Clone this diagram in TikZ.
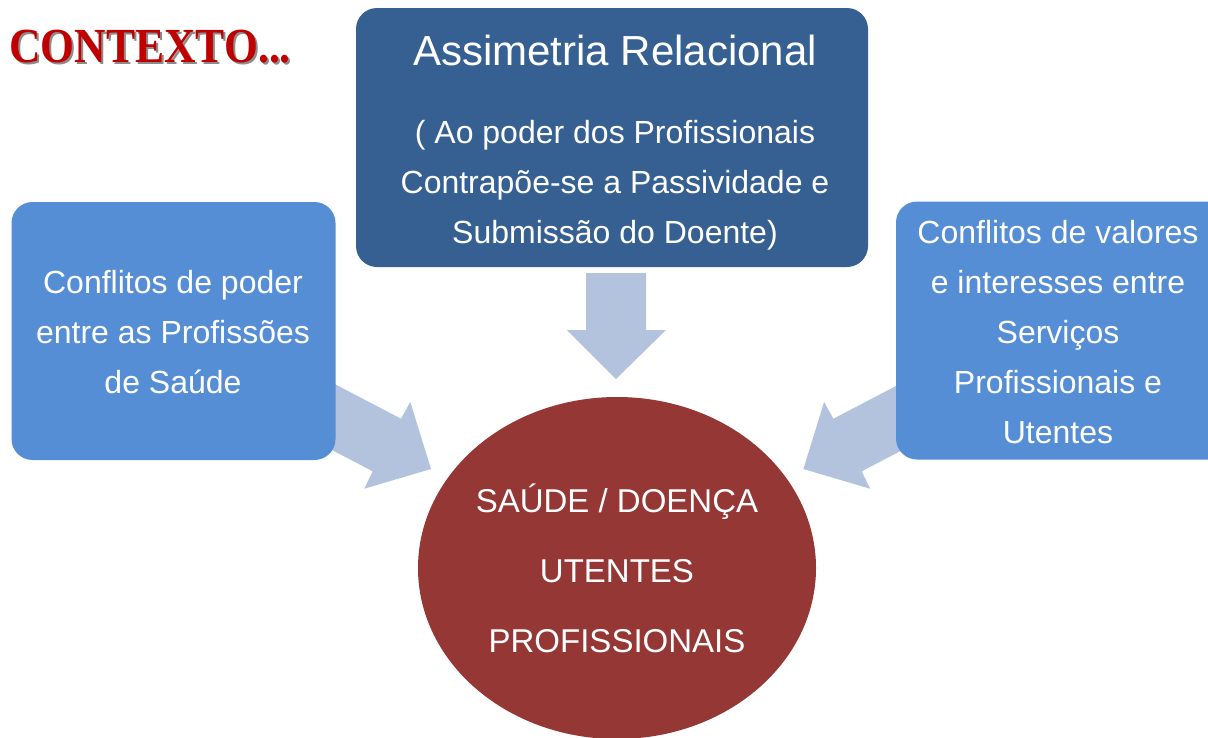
\documentclass[tikz,border=0pt]{standalone}
\usepackage{fontspec}
\setmainfont{Liberation Sans}
\newfontfamily\titlefont{Liberation Serif}
\definecolor{topblue}{HTML}{376092}
\definecolor{sideblue}{HTML}{558ED5}
\definecolor{arrowblue}{HTML}{B3C3DE}
\definecolor{circred}{HTML}{953735}
\definecolor{titlered}{HTML}{C00000}
\definecolor{shadowgray}{HTML}{8C8C8C}
\tikzset{
  boxshape/.style={rectangle, rounded corners=21pt, inner sep=0pt},
  topbox/.style={boxshape, fill=topblue},
  sidebox/.style={boxshape, fill=sideblue},
  blockarrow/.style={fill=arrowblue, draw=none},
  bodytext/.style={text=white, align=center, inner sep=0pt, font=\fontsize{32}{50}\selectfont},
  headtext/.style={text=white, inner sep=0pt, font=\fontsize{42}{50}\selectfont},
  circtext/.style={text=white, align=center, inner sep=0pt, font=\fontsize{33}{70}\selectfont},
  titletext/.style={inner sep=0pt, anchor=base east, xscale=0.89, font=\titlefont\bfseries\fontsize{49}{50}\selectfont}
}
\begin{document}
\begin{tikzpicture}[x=1pt,y=-1pt]
\useasboundingbox (0,0) rectangle (1208,737);
\clip (0,0) rectangle (1208,737);
\fill[white] (0,0) rectangle (1208,737);

% title
\node[titletext, text=shadowgray] (titleshadow) at (293,64) {CONTEXTO...};
\node[titletext, text=titlered] (title) at (291,62) {CONTEXTO...};

% block arrows (drawn first, boxes cover their tails)
\fill[blockarrow] (586,273) -- (646,273) -- (646,330) -- (666,330) -- (616,379)
   -- (567,330) -- (586,330) -- cycle;
\fill[blockarrow] (312.4,372.4) -- (401,418.7) -- (410.3,402) -- (431,469)
   -- (364.3,488.7) -- (372.7,471.3) -- (284.1,425) -- cycle;
\fill[blockarrow] (922,372.4) -- (833.4,418.7) -- (824.1,402) -- (803.4,469)
   -- (870.1,488.7) -- (861.7,471.3) -- (950.3,425) -- cycle;

% boxes
\node[topbox, minimum width=512, minimum height=259] (top) at (612,137.5) {};
\node[sidebox, minimum width=324, minimum height=258] (left) at (173.5,331) {};
\node[sidebox, minimum width=334, minimum height=258] (right) at (1063,330.5) {};

% centre ellipse
\fill[circred] (617,568) ellipse [x radius=199, y radius=171];
\node[circtext] (centre) at (617,568) {SAÚDE / DOENÇA\\UTENTES\\PROFISSIONAIS};

% texts
\node[headtext, anchor=base] (toptitle) at (615,65) {Assimetria Relacional};
\node[bodytext] (topbody) at (615,185) {( Ao poder dos Profissionais\\Contrapõe-se a Passividade e\\Submissão do Doente)};
\node[bodytext] (lefttext) at (173,332) {Conflitos de poder\\entre as Profissões\\de Saúde};
\node[bodytext] (righttext) at (1058,332) {Conflitos de valores\\e interesses entre\\Serviços\\Profissionais e\\Utentes};
\end{tikzpicture}
\end{document}
